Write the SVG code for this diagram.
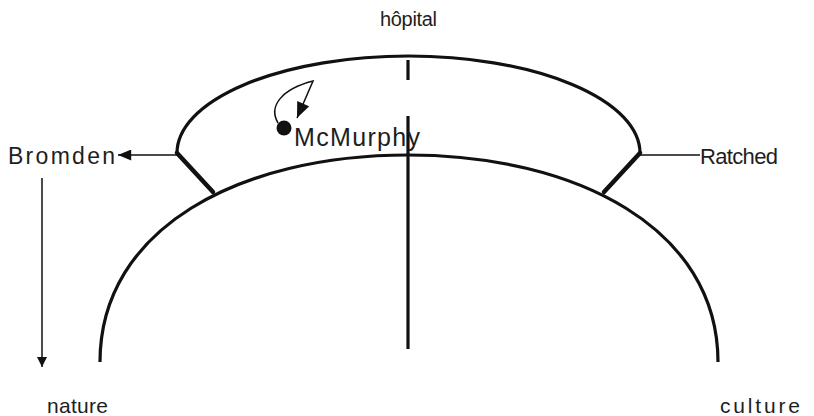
<svg xmlns="http://www.w3.org/2000/svg" width="814" height="416" viewBox="0 0 814 416">
<defs>
<style>
.t{font-family:"Liberation Sans",Arial,sans-serif;fill:#1e1e1e;font-size:20px}
.thick{fill:none;stroke:#111;stroke-width:3.2}
.thin{fill:none;stroke:#111;stroke-width:1.5}
.bold{fill:none;stroke:#111;stroke-width:4.5;stroke-linecap:round}
</style>
<marker id="ah" viewBox="0 0 10 10" refX="10" refY="5" markerWidth="10" markerHeight="12" markerUnits="userSpaceOnUse" orient="auto"><path d="M0,0 L10,5 L0,10 z" fill="#111"/></marker>
<marker id="ahL" viewBox="0 0 12 10" refX="12" refY="5" markerWidth="14" markerHeight="11" markerUnits="userSpaceOnUse" orient="auto"><path d="M0,0 L12,5 L0,10 z" fill="#111"/></marker>
<marker id="ahM" viewBox="0 0 12 10" refX="12" refY="5" markerWidth="17" markerHeight="13" markerUnits="userSpaceOnUse" orient="auto"><path d="M0,0 L12,5 L0,10 z" fill="#111"/></marker>
</defs>
<g id="hopital">
<path class="thick" d="M177,153 A231.5,97 0 0 1 640,153"/>
<text class="t" x="380" y="26" textLength="57" lengthAdjust="spacing">hôpital</text>
</g>
<g id="dome">
<path class="thick" d="M100,362 C100,228 240,155 408,155 C576,155 718,228 718,362"/>
</g>
<g id="divider">
<path class="thick" d="M408,60 V80 M408,116 V349"/>
</g>
<g id="bromden">
<text class="t" x="8" y="164" style="font-size:23px" textLength="107" lengthAdjust="spacing">Bromden</text>
</g>
<g id="ratched">
<text class="t" x="700" y="164" style="font-size:22px" textLength="78" lengthAdjust="spacing">Ratched</text>
</g>
<g id="mcmurphy">
<circle cx="284" cy="128" r="7.5" fill="#111"/>
<text class="t" x="294" y="146" style="font-size:25px" textLength="126" lengthAdjust="spacing">McMurphy</text>
</g>
<g id="nature"><text class="t" x="47" y="413" style="font-size:21px" textLength="61" lengthAdjust="spacing">nature</text></g>
<g id="culture"><text class="t" x="720" y="413" style="font-size:21px" textLength="80" lengthAdjust="spacing">culture</text></g>
<g id="connectors">
<path class="bold" d="M177,153 L213,192"/>
<path class="bold" d="M640,153 L604,192"/>
<path class="thin" d="M177,155 H118" marker-end="url(#ahL)"/>
<path class="thin" d="M640,155 H700"/>
<path class="thin" d="M42,178 V367" marker-end="url(#ah)"/>
<path class="thin" d="M278,123 C268,106 282,89 313,81 L297,118" marker-end="url(#ahM)"/>
</g>
</svg>
